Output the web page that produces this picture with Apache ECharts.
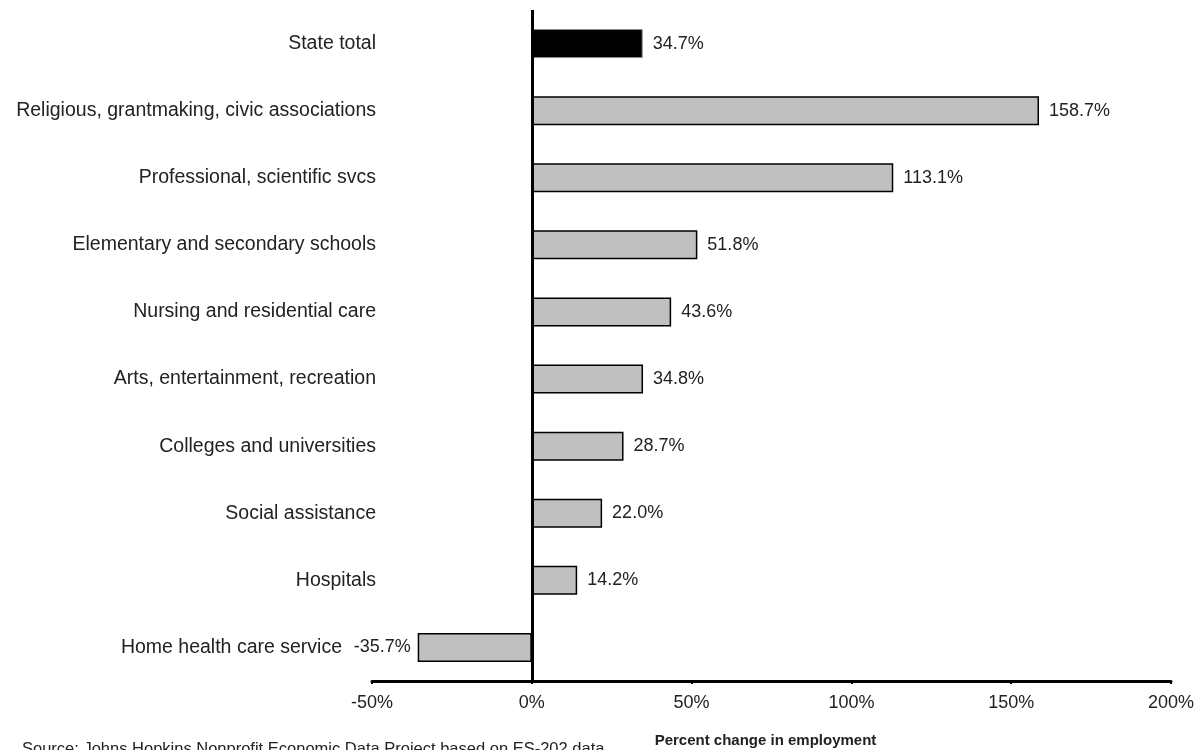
<!DOCTYPE html>
<html>
<head>
<meta charset="utf-8">
<script src="https://cdn.jsdelivr.net/npm/echarts@6/dist/echarts.min.js"></script>
<style>
  html, body { margin: 0; padding: 0; background: #fff; }
  #chart { width: 1201px; height: 750px; }
</style>
</head>
<body>
<div id="chart"></div>
<script>
// Industries, top to bottom
const categories = [
  'State total',
  'Religious, grantmaking, civic associations',
  'Professional, scientific svcs',
  'Elementary and secondary schools',
  'Nursing and residential care',
  'Arts, entertainment, recreation',
  'Colleges and universities',
  'Social assistance',
  'Hospitals',
  'Home health care service'
];
// Percent change in employment
const pctChange = [34.7, 158.7, 113.1, 51.8, 43.6, 34.8, 28.7, 22.0, 14.2, -35.7];
const axisMin = -50, axisMax = 200, axisStep = 50;

const FONT = 'Liberation Sans, Arial, Helvetica, sans-serif';

const chart = echarts.init(document.getElementById('chart'), null, { renderer: 'canvas' });

const barData = pctChange.map((v, i) => ({
  value: v,
  itemStyle: i === 0
    ? { color: '#000000', borderColor: '#8a8a8a', borderWidth: 1 }
    : { color: '#c0c0c0', borderColor: '#000000', borderWidth: 1.5 },
  label: v < 0 ? { position: 'left', distance: 7 } : { position: 'right', distance: 10 }
}));

chart.setOption({
  animation: false,
  backgroundColor: '#ffffff',
  grid: { left: 372, right: 30, top: 10, bottom: 69, containLabel: false, outerBoundsMode: 'none' },
  xAxis: {
    type: 'value',
    min: axisMin,
    max: axisMax,
    interval: axisStep,
    splitLine: { show: false },
    axisLine: { show: true, lineStyle: { color: '#000', width: 3 } },
    axisTick: { show: true, length: 3, lineStyle: { color: '#000', width: 2 } },
    axisLabel: {
      margin: 13,
      fontFamily: FONT,
      fontSize: 18,
      color: '#222',
      formatter: v => v + '%'
    },
    name: 'Percent change in employment',
    nameLocation: 'middle',
    nameGap: 52,
    nameTextStyle: { fontFamily: FONT, fontSize: 15, fontWeight: 'bold', color: '#222', padding: [0, 12, 0, 0] }
  },
  yAxis: {
    type: 'category',
    data: categories,
    inverse: true,
    axisLine: { show: false },
    axisTick: { show: false },
    splitLine: { show: false },
    axisLabel: {
      margin: -4,
      fontFamily: FONT,
      fontSize: 19.5,
      color: '#222',
      // categories with a negative value leave room for the bar's own label
      formatter: (name, idx) => pctChange[idx] < 0 ? '{neg|' + name + '}' : name,
      rich: {
        neg: { fontFamily: FONT, fontSize: 19.5, color: '#222', padding: [0, 34, 0, 0] }
      }
    }
  },
  series: [{
    type: 'bar',
    data: barData,
    barWidth: 29,
    label: {
      show: true,
      fontFamily: FONT,
      fontSize: 18,
      color: '#222',
      formatter: p => p.value.toFixed(1) + '%'
    },
    markLine: {
      silent: true,
      symbol: 'none',
      label: { show: false },
      lineStyle: { color: '#000', width: 3, type: 'solid' },
      data: [{ xAxis: 0 }]
    }
  }],
  graphic: [{
    type: 'text',
    left: 22,
    top: 741,
    style: {
      text: 'Source: Johns Hopkins Nonprofit Economic Data Project based on ES-202 data',
      font: '16.5px ' + FONT,
      fill: '#222'
    }
  }]
});
</script>
</body>
</html>
